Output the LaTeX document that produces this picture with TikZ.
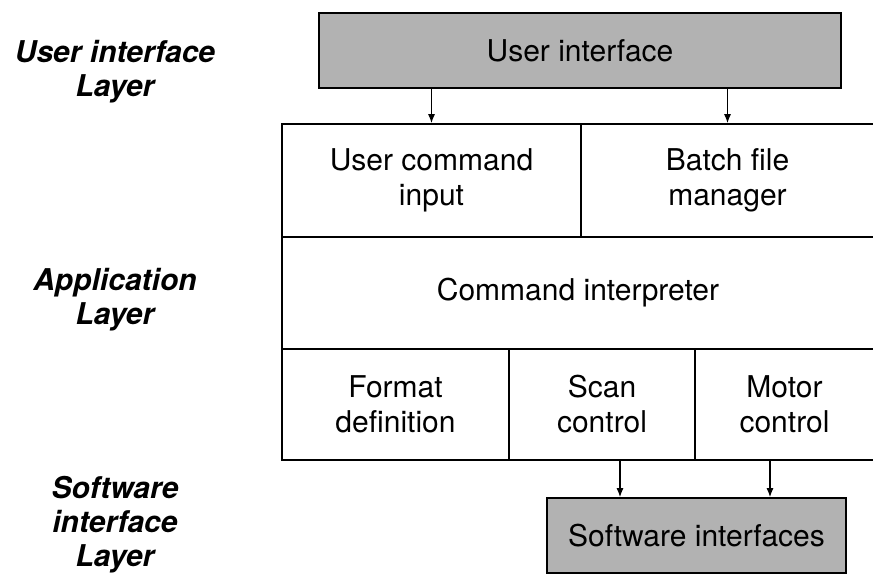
\documentclass[tikz,border=0pt]{standalone}
\usepackage{fontspec}
\setmainfont{TeX Gyre Heros}
\usetikzlibrary{arrows.meta}
\tikzset{
  box/.style={draw=black, line width=1.6pt, rectangle, inner sep=0pt, align=center,
    font=\fontsize{30}{35}\selectfont},
  shaded/.style={box, fill=black!30},
  layer/.style={inner sep=0pt, align=center, font=\fontsize{30}{34}\selectfont\bfseries\itshape},
  arr/.style={line width=1.2pt, -{Latex[length=9pt,width=7pt]}}
}
\begin{document}
\begin{tikzpicture}[x=1pt,y=-1pt]
\useasboundingbox (0,0) rectangle (873,577);
% layer labels
\node[layer] (l1) at (115,72) {User interface\\Layer};
\node[layer] (l2) at (115,300) {Application\\Layer};
\node[layer] (l3) at (115,525) {Software\\interface\\Layer};
% top box
\node[shaded, minimum width=522pt, minimum height=75pt] (ui) at (580,50.5) {User interface};
% application layer cells
\node[box, minimum width=299pt, minimum height=113pt] (uci) at (431.5,180.5) {User command\\input};
\node[box, minimum width=293pt, minimum height=113pt] (bfm) at (727.5,180.5) {Batch file\\manager};
\node[box, minimum width=592pt, minimum height=112pt] (ci) at (578,293) {Command interpreter};
\node[box, minimum width=227pt, minimum height=111pt] (fd) at (395.5,404.5) {Format\\definition};
\node[box, minimum width=186pt, minimum height=111pt] (sc) at (602,404.5) {Scan\\control};
\node[box, minimum width=179pt, minimum height=111pt] (mc) at (784.5,404.5) {Motor\\control};
% software interfaces
\node[shaded, minimum width=299pt, minimum height=75pt] (sw) at (696.5,535.5) {Software interfaces};
% arrows
\coordinate (a3) at (620,0);
\coordinate (a4) at (770,0);
\draw[arr] (ui.south -| uci.north) -- (uci.north);
\draw[arr] (ui.south -| bfm.north) -- (bfm.north);
\draw[arr] (sc.south -| a3) -- (sw.north -| a3);
\draw[arr] (mc.south -| a4) -- (sw.north -| a4);
\end{tikzpicture}
\end{document}
